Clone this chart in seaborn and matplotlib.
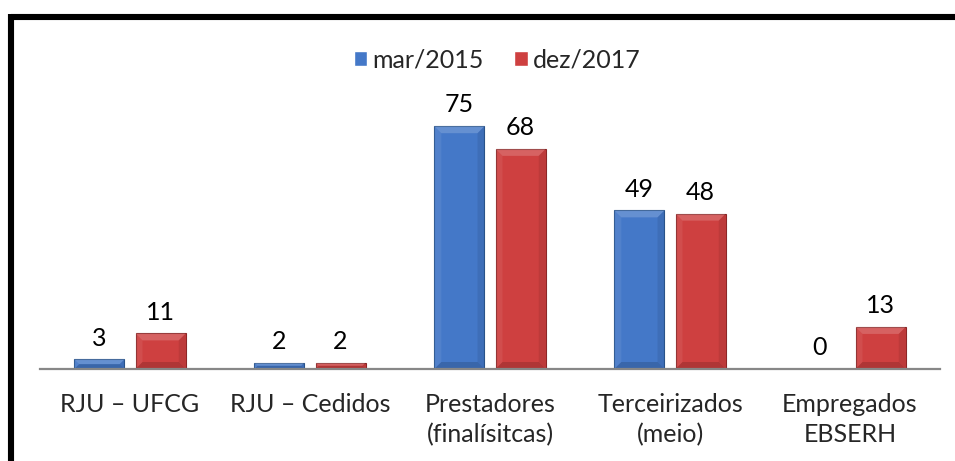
import numpy as np
import pandas as pd
import matplotlib
matplotlib.use("Agg")
import matplotlib.pyplot as plt
import seaborn as sns
from matplotlib.lines import Line2D
from matplotlib.patches import Polygon

# Data
categories = ["RJU – UFCG", "RJU – Cedidos", "Prestadores\n(finalísitcas)",
              "Terceirizados\n(meio)", "Empregados\nEBSERH"]
periods = ["mar/2015", "dez/2017"]
mar_2015 = [3, 2, 75, 49, 0]
dez_2017 = [11, 2, 68, 48, 13]

df = pd.DataFrame({
    "categoria": categories * 2,
    "periodo": [periods[0]] * len(categories) + [periods[1]] * len(categories),
    "valor": mar_2015 + dez_2017,
})

colors = {"mar/2015": "#4478C8", "dez/2017": "#CE4040"}
edges = {"mar/2015": "#2B568F", "dez/2017": "#8C2626"}
FS = 18

sns.set_style("white")
plt.rcParams["font.family"] = ["Lato", "DejaVu Sans"]

fig = plt.figure(figsize=(9.55, 4.61), dpi=100)
ax = fig.add_axes([40 / 955, 92 / 461, 900 / 955, 259 / 461])

sns.barplot(data=df, x="categoria", y="valor", hue="periodo", hue_order=periods,
            palette=colors, saturation=1, width=0.68, gap=0.18, ax=ax, legend=True)

ax.set_xlim(-0.5, 4.5)
ax.set_ylim(0, 80)

# darker edges + soft bevel shading
inv = ax.transData.inverted()
for cont, p in zip(ax.containers, periods):
    for bar in cont:
        bar.set_edgecolor(edges[p])
        bar.set_linewidth(0.8)
        x0, y0 = bar.get_x(), bar.get_y()
        w, h = bar.get_width(), bar.get_height()
        if h <= 0:
            continue
        (px0, py0), (px1, py1) = ax.transData.transform([(x0, y0), (x0 + w, y0 + h)])
        b = min(7, (py1 - py0) / 2)
        top = inv.transform([(px0, py1), (px1, py1), (px1 - b, py1 - b), (px0 + b, py1 - b)])
        bot = inv.transform([(px0, py0), (px1, py0), (px1 - b, py0 + b), (px0 + b, py0 + b)])
        left = inv.transform([(px0, py0), (px0, py1), (px0 + b, py1 - b), (px0 + b, py0 + b)])
        right = inv.transform([(px1, py0), (px1, py1), (px1 - b, py1 - b), (px1 - b, py0 + b)])
        ax.add_patch(Polygon(top, closed=True, facecolor="white", alpha=0.18, lw=0))
        ax.add_patch(Polygon(bot, closed=True, facecolor="black", alpha=0.15, lw=0))
        ax.add_patch(Polygon(left, closed=True, facecolor="white", alpha=0.07, lw=0))
        ax.add_patch(Polygon(right, closed=True, facecolor="black", alpha=0.08, lw=0))

for cont in ax.containers:
    ax.bar_label(cont, padding=7, fontsize=FS, color="black")

sns.despine(ax=ax, left=True, top=True, right=True)
ax.spines["bottom"].set_color("#878787")
ax.spines["bottom"].set_linewidth(1.6)
ax.set_yticks([])
ax.set_xlabel("")
ax.set_ylabel("")
ax.tick_params(axis="x", length=0, pad=17, labelsize=FS)
for lab in ax.get_xticklabels():
    lab.set_linespacing(1.4)

handles, labels = ax.get_legend_handles_labels()
ax.legend(handles, labels, loc="center", bbox_to_anchor=(497 / 955, 1 - 60 / 461),
          bbox_transform=fig.transFigure, ncol=2, frameon=False, fontsize=FS,
          handlelength=0.55, handleheight=0.55, handletextpad=0.2, columnspacing=1.2)

# thick black frame (top + left)
fig.add_artist(Line2D([11 / 955, 1.0], [1 - 17 / 461, 1 - 17 / 461],
                      transform=fig.transFigure, color="black", lw=4.4,
                      solid_capstyle="butt"))
fig.add_artist(Line2D([11 / 955, 11 / 955], [1 - 14 / 461, 0.0],
                      transform=fig.transFigure, color="black", lw=4.4,
                      solid_capstyle="butt"))

fig.savefig("out.png", dpi=100, facecolor="white")
